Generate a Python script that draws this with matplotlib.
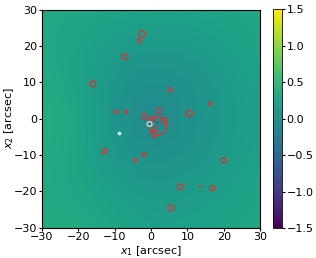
import numpy as np
import matplotlib.pyplot as plt

# background residual map, coarse grid (rows y=30..-30, cols x=-30..30)
grid_vals = np.array([
    [0.30, 0.28, 0.25, 0.24, 0.24, 0.26, 0.28],
    [0.30, 0.25, 0.15, 0.10, 0.12, 0.18, 0.25],
    [0.35, 0.22, 0.06, 0.00, 0.03, 0.12, 0.22],
    [0.38, 0.28, 0.06, -0.15, 0.02, 0.10, 0.20],
    [0.35, 0.25, 0.08, 0.03, 0.06, 0.12, 0.22],
    [0.30, 0.28, 0.18, 0.10, 0.12, 0.18, 0.25],
    [0.33, 0.34, 0.25, 0.20, 0.22, 0.25, 0.28],
])

# red source circles (x, y, size)
src_x = [-2.5, -3.3, -7.2, -16.0, -9.9, -6.9, 5.2, 16.3, 10.5,
         -1.9, 2.1, 0.2, 3.6, 1.1, 0.9,
         -12.9, -4.4, -1.9, 20.0, 8.0, 13.5, 16.8, 5.5, 1.8]
src_y = [23.3, 21.4, 17.0, 9.6, 1.9, 1.9, 7.9, 4.1, 1.4,
         0.5, 2.0, -0.3, -0.6, -2.9, -4.2,
         -9.0, -11.5, -9.9, -11.5, -18.8, -18.6, -19.2, -24.6, -2.1]
src_s = [20, 8, 18, 16, 6, 6, 10, 6, 20,
         18, 20, 18, 20, 10, 22,
         14, 8, 8, 14, 18, 1, 14, 20, 160]

# cyan markers
cyan_ring = (-0.4, -1.5)
cyan_dot = (-8.8, -4.1)

fig = plt.figure(figsize=(3.16, 2.58), dpi=100)
ax = fig.add_axes([0.133, 0.116, 0.69, 0.849])
cax = fig.add_axes([0.864, 0.116, 0.028, 0.849])

im = ax.imshow(grid_vals, extent=[-35, 35, -35, 35], origin='upper',
               cmap='viridis', vmin=-1.5, vmax=1.5, interpolation='bicubic')
ax.scatter(src_x, src_y, s=src_s, facecolors='none', edgecolors='#e03030', linewidths=0.9)
ax.scatter([cyan_ring[0]], [cyan_ring[1]], s=12, facecolors='none', edgecolors='#a0e8e8', linewidths=1.0)
ax.scatter([cyan_dot[0]], [cyan_dot[1]], s=3, color='#c0f0f0')
ax.plot([1.6], [-0.9], '+', color='#303080', ms=2, mew=0.6)

ax.set_xlim(-30, 30)
ax.set_ylim(-30, 30)
ax.set_xticks([-30, -20, -10, 0, 10, 20, 30])
ax.set_yticks([-30, -20, -10, 0, 10, 20, 30])
ax.set_xlabel("$x_1$ [arcsec]", fontsize=8, labelpad=1)
ax.set_ylabel("$x_2$ [arcsec]", fontsize=8, labelpad=-2)
ax.tick_params(labelsize=8, length=2.5, pad=1)

cb = fig.colorbar(im, cax=cax, ticks=[-1.5, -1.0, -0.5, 0.0, 0.5, 1.0, 1.5])
cb.ax.tick_params(labelsize=8, length=2.5, pad=1)
cb.outline.set_linewidth(0.6)

fig.savefig("out.png", dpi=100)
